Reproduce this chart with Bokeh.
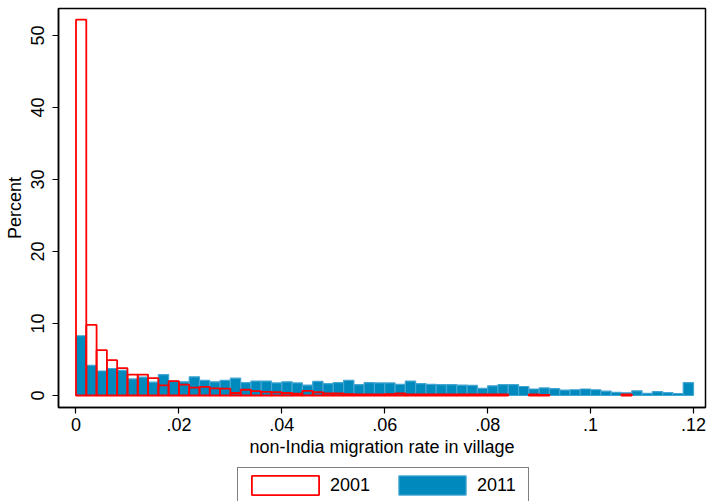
from bokeh.plotting import figure
from bokeh.layouts import column
from bokeh.models import Range1d, FixedTicker, Legend, LegendItem, ColumnDataSource
from bokeh.embed import file_html
from bokeh.resources import INLINE

# ---- data (percent of villages per bin, bins of width 0.002 starting at 0) ----
bin_width = 0.002
pct_2011 = [8.3, 4.2, 3.4, 3.75, 3.5, 2.3, 2.55, 1.85, 2.9, 2.0,
            1.9, 2.6, 2.1, 1.9, 2.1, 2.4, 1.8, 2.0, 2.0, 1.75,
            1.9, 1.75, 1.45, 1.95, 1.65, 1.8, 2.1, 1.5, 1.8, 1.75,
            1.75, 1.55, 2.0, 1.65, 1.55, 1.5, 1.5, 1.45, 1.4, 1.0,
            1.35, 1.5, 1.5, 1.25, 0.9, 1.05, 0.95, 0.75, 0.8, 0.9,
            0.8, 0.6, 0.45, 0.37, 0.65, 0.3, 0.55, 0.4, 0.28, 1.8]
pct_2001 = [52.2, 9.8, 6.3, 4.9, 3.8, 2.9, 2.9, 2.4, 1.4, 2.0,
            1.5, 1.1, 1.2, 1.0, 0.95, 0.35, 0.8, 0.6, 0.5, 0.45,
            0.35, 0.25, 0.65, 0.45, 0.3, 0.3, 0.2, 0.15, 0.15, 0.15,
            0.2, 0.3, 0.15, 0.15, 0.15, 0.15, 0.15, 0.15, 0.15, 0.15,
            0.15, 0.15, 0.0, 0.0, 0.15, 0.1, 0.0, 0.0, 0.0, 0.0,
            0.0, 0.0, 0.0, 0.15, 0.0, 0.0, 0.0, 0.0, 0.0, 0.0]
x_ticks = [0, 0.02, 0.04, 0.06, 0.08, 0.10, 0.12]
x_tick_labels = ["0", ".02", ".04", ".06", ".08", ".1", ".12"]
y_ticks = [0, 10, 20, 30, 40, 50]
series_labels = ["2001", "2011"]

FONT = "Liberation Sans"
BLUE = "#0089bd"
BLUE_EDGE = "#44a6d2"
RED = "#ff0000"
STYLE_2011 = dict(fill_color=BLUE, line_color=BLUE_EDGE, line_width=1.2)
STYLE_2001 = dict(fill_color="white", fill_alpha=0.0, line_color=RED, line_width=1.8)

def bins(values, drop_zero=False):
    left, right, top = [], [], []
    for i, v in enumerate(values):
        if drop_zero and v <= 0:
            continue
        left.append(i * bin_width)
        right.append((i + 1) * bin_width)
        top.append(v)
    return ColumnDataSource(dict(left=left, right=right, top=top, bottom=[0] * len(top)))

src_2011 = bins(pct_2011)
src_2001 = bins(pct_2001, True)

p = figure(frame_width=647, frame_height=399, output_backend="svg", toolbar_location=None,
           x_range=Range1d(-0.0034, 0.12233), y_range=Range1d(-1.667, 53.75),
           min_border_left=58, min_border_right=4, min_border_top=8, min_border_bottom=55)
p.background_fill_color = "white"
p.border_fill_color = "white"
p.outline_line_color = "black"
p.outline_line_width = 1.5
p.xgrid.visible = False
p.ygrid.visible = False

p.quad(left="left", right="right", top="top", bottom="bottom", source=src_2011, **STYLE_2011)
p.quad(left="left", right="right", top="top", bottom="bottom", source=src_2001, **STYLE_2001)

for ax in (p.xaxis[0], p.yaxis[0]):
    ax.axis_line_color = "black"
    ax.axis_line_width = 1.5
    ax.major_tick_line_color = "black"
    ax.major_tick_line_width = 1.2
    ax.major_tick_out = 6
    ax.major_tick_in = 0
    ax.minor_tick_line_color = None
    ax.major_label_text_font = FONT
    ax.major_label_text_font_size = "18px"
    ax.major_label_text_color = "black"
    ax.axis_label_text_font = FONT
    ax.axis_label_text_font_size = "18px"
    ax.axis_label_text_font_style = "normal"
    ax.axis_label_text_color = "black"

p.xaxis.ticker = FixedTicker(ticks=x_ticks)
p.xaxis.major_label_overrides = {t: l for t, l in zip(x_ticks, x_tick_labels)}
p.xaxis.axis_label = "non-India migration rate in village"
p.xaxis.major_label_standoff = 4
p.xaxis.axis_label_standoff = 3

p.yaxis.ticker = FixedTicker(ticks=y_ticks)
p.yaxis.major_label_orientation = "vertical"
p.yaxis.axis_label = "Percent"
p.yaxis.major_label_standoff = 8
p.yaxis.axis_label_standoff = 4

# ---- legend strip below the chart (same sources, drawn out of view; only the key shows) ----
leg_fig = figure(width=709, height=42, output_backend="svg", toolbar_location=None,
                 x_axis_type=None, y_axis_type=None,
                 x_range=Range1d(-0.0034, 0.12233), y_range=Range1d(1000, 1001),
                 min_border_left=0, min_border_right=0, min_border_top=0, min_border_bottom=0)
leg_fig.outline_line_color = None
leg_fig.xgrid.visible = False
leg_fig.ygrid.visible = False
l01 = leg_fig.quad(left="left", right="right", top="top", bottom="bottom", source=src_2001, **STYLE_2001)
l11 = leg_fig.quad(left="left", right="right", top="top", bottom="bottom", source=src_2011, **STYLE_2011)

legend = Legend(items=[LegendItem(label=series_labels[0], renderers=[l01]),
                       LegendItem(label=series_labels[1], renderers=[l11])],
                orientation="horizontal", location=(179, 1),
                glyph_width=84, glyph_height=24, label_standoff=3, spacing=14,
                label_width=46, padding=5, margin=0,
                label_text_font=FONT, label_text_font_size="18px", label_text_color="black",
                border_line_color="black", border_line_width=1.2,
                background_fill_color="white")
leg_fig.add_layout(legend)

layout = column(p, leg_fig, spacing=0)
open("out.html", "w").write(file_html(layout, INLINE))
